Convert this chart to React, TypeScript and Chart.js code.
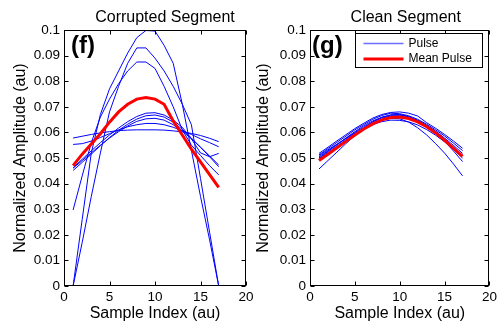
import React, { useEffect, useRef } from 'react';
import { Chart, registerables } from 'chart.js';

Chart.register(...registerables);

const FONT = '"Liberation Sans", Arial, Helvetica, sans-serif';

// ---------- data ----------
const sampleIndex = [1, 2, 3, 4, 5, 6, 7, 8, 9, 10, 11, 12, 13, 14, 15, 16, 17];
const xTickValues = [0, 5, 10, 15, 20];
const xTickLabels = ['0', '5', '10', '15', '20'];
const yTickValues = [0, 0.01, 0.02, 0.03, 0.04, 0.05, 0.06, 0.07, 0.08, 0.09, 0.1];
const yTickLabels = ['0', '0.01', '0.02', '0.03', '0.04', '0.05', '0.06', '0.07', '0.08', '0.09', '0.1'];

// Corrupted segment pulses
const corruptedPulseA = [0, 0.026, 0.052, 0.067, 0.077, 0.084, 0.091, 0.097, 0.0998, 0.0996, 0.094, 0.087, 0.071, 0.053, 0.035, 0.018, 0];
const corruptedPulseB = [0, 0.017, 0.035, 0.052, 0.068, 0.078, 0.087, 0.093, 0.093, 0.089, 0.084, 0.078, 0.071, 0.063, 0.042, 0.021, 0];
const corruptedPulseC = [0.0297, 0.043, 0.056, 0.066, 0.073, 0.079, 0.084, 0.0875, 0.0875, 0.085, 0.078, 0.07, 0.061, 0.055, 0.051, 0.047, 0.0434];
const corruptedPulseD = [0.0578, 0.0585, 0.0592, 0.0598, 0.0603, 0.0607, 0.0609, 0.061, 0.061, 0.061, 0.0609, 0.0606, 0.0602, 0.0596, 0.0588, 0.0577, 0.0564];
const corruptedPulseE = [0.0553, 0.0556, 0.0566, 0.058, 0.0595, 0.061, 0.0622, 0.063, 0.0635, 0.0635, 0.063, 0.062, 0.0607, 0.0592, 0.0575, 0.056, 0.0544];
const corruptedPulseF = [0.046, 0.049, 0.052, 0.055, 0.0578, 0.0603, 0.0625, 0.0643, 0.0653, 0.0655, 0.0648, 0.063, 0.0605, 0.0575, 0.0542, 0.0508, 0.0473];
const corruptedPulseG = [0.0451, 0.0483, 0.0515, 0.0548, 0.058, 0.0608, 0.0632, 0.0652, 0.0665, 0.0668, 0.066, 0.064, 0.0612, 0.0578, 0.0542, 0.0505, 0.0466];
const corruptedPulseH = [0.0462, 0.0495, 0.0528, 0.056, 0.059, 0.0617, 0.0642, 0.0662, 0.0675, 0.0677, 0.0668, 0.0648, 0.062, 0.0575, 0.052, 0.0505, 0.0518];
const corruptedMean = [0.047, 0.0515, 0.0555, 0.0595, 0.064, 0.068, 0.071, 0.073, 0.0736, 0.073, 0.071, 0.0645, 0.059, 0.0535, 0.0485, 0.0435, 0.0385];

// Clean segment pulses
const cleanPulseA = [0.0518, 0.0542, 0.0567, 0.0591, 0.0615, 0.0636, 0.0656, 0.067, 0.0678, 0.068, 0.0675, 0.0664, 0.0638, 0.0616, 0.0592, 0.0566, 0.0538];
const cleanPulseB = [0.0512, 0.0537, 0.0561, 0.0585, 0.061, 0.0631, 0.0651, 0.0666, 0.0675, 0.0673, 0.0665, 0.0651, 0.0632, 0.061, 0.0586, 0.0558, 0.0529];
const cleanPulseC = [0.0505, 0.0528, 0.0552, 0.0576, 0.06, 0.0621, 0.0641, 0.0656, 0.0664, 0.0665, 0.0658, 0.0646, 0.0628, 0.0605, 0.0578, 0.0549, 0.0518];
const cleanPulseD = [0.0457, 0.049, 0.0523, 0.0556, 0.0588, 0.0616, 0.0641, 0.0659, 0.0669, 0.067, 0.0662, 0.0646, 0.0623, 0.0596, 0.0565, 0.0527, 0.0486];
const cleanPulseE = [0.0498, 0.0522, 0.0546, 0.0571, 0.0595, 0.0616, 0.0635, 0.0649, 0.0655, 0.0653, 0.064, 0.0618, 0.059, 0.0556, 0.0519, 0.0476, 0.043];
const cleanPulseF = [0.051, 0.0532, 0.0554, 0.0576, 0.0597, 0.0615, 0.0631, 0.0642, 0.0648, 0.0647, 0.0641, 0.0629, 0.0611, 0.0589, 0.0563, 0.0533, 0.05];
const cleanPulseG = [0.05, 0.0526, 0.0552, 0.0578, 0.0603, 0.0626, 0.0645, 0.0659, 0.0667, 0.0668, 0.0661, 0.0647, 0.0627, 0.0602, 0.0573, 0.0542, 0.051];
const cleanMean = [0.049, 0.0515, 0.054, 0.0565, 0.059, 0.0613, 0.0633, 0.0649, 0.0658, 0.066, 0.0654, 0.0641, 0.0622, 0.0598, 0.0569, 0.0538, 0.0506];

const corruptedPulses = [corruptedPulseA, corruptedPulseB, corruptedPulseC, corruptedPulseD, corruptedPulseE, corruptedPulseF, corruptedPulseG, corruptedPulseH];
const cleanPulses = [cleanPulseA, cleanPulseB, cleanPulseC, cleanPulseD, cleanPulseE, cleanPulseF, cleanPulseG];

const legendLabels = ['Pulse', 'Mean Pulse'];

type PanelProps = {
  left: number;
  width: number;
  yAxisWidth: number;
  padRight: number;
  yTitlePad: number;
  title: string;
  titleShift: number;
  tag: string;
  tagX: number;
  legend: boolean;
  pulses: number[][];
  mean: number[];
};

function Panel(p: PanelProps) {
  const ref = useRef<HTMLCanvasElement | null>(null);
  useEffect(() => {
    if (!ref.current) return;
    const toPts = (arr: number[]) => sampleIndex.map((x, i) => ({ x, y: arr[i] }));
    const datasets: any[] = [
      {
        label: 'Mean Pulse',
        data: toPts(p.mean),
        borderColor: '#ff0000',
        borderWidth: 3,
        pointRadius: 0,
        tension: 0,
      },
      ...p.pulses.map((arr, k) => ({
        label: 'Pulse ' + (k + 1),
        data: toPts(arr),
        borderColor: '#0000ff',
        borderWidth: 1,
        pointRadius: 0,
        tension: 0,
      })),
    ];

    const framePlugin = {
      id: 'frame',
      afterDraw(chart: any) {
        const { ctx, chartArea, scales } = chart;
        const { left, right, top, bottom } = chartArea;
        const xs = scales.x;
        const ys = scales.y;
        ctx.save();
        ctx.strokeStyle = '#000';
        ctx.lineWidth = 1;
        const L = Math.round(left) + 0.5;
        const R = Math.round(right) - 0.5;
        const T = Math.round(top) + 0.5;
        const B = Math.round(bottom) - 0.5;
        ctx.strokeRect(L, T, R - L, B - T);
        const tl = 4;
        ctx.beginPath();
        xTickValues.forEach((v) => {
          const px = Math.round(xs.getPixelForValue(v)) + 0.5;
          ctx.moveTo(px, B);
          ctx.lineTo(px, B - tl);
          ctx.moveTo(px, T);
          ctx.lineTo(px, T + tl);
        });
        yTickValues.forEach((v) => {
          const py = Math.round(ys.getPixelForValue(v)) + 0.5;
          ctx.moveTo(L, py);
          ctx.lineTo(L + tl, py);
          ctx.moveTo(R, py);
          ctx.lineTo(R - tl, py);
        });
        ctx.stroke();

        // title
        ctx.fillStyle = '#000';
        ctx.font = '16px ' + FONT;
        ctx.textAlign = 'center';
        ctx.textBaseline = 'middle';
        ctx.fillText(p.title, (left + right) / 2 + p.titleShift, 18);

        // panel tag
        ctx.font = 'bold 24px ' + FONT;
        ctx.textAlign = 'left';
        ctx.textBaseline = 'alphabetic';
        ctx.fillText(p.tag, p.tagX, 53);

        if (p.legend) {
          const bx1 = Math.round(right) - 6.5;
          const bx0 = bx1 - 127;
          const by0 = Math.round(top) + 3.5;
          const by1 = by0 + 34;
          ctx.fillStyle = '#fff';
          ctx.fillRect(bx0, by0, bx1 - bx0, by1 - by0);
          ctx.strokeStyle = '#000';
          ctx.lineWidth = 1;
          ctx.strokeRect(bx0, by0, bx1 - bx0, by1 - by0);
          // Pulse entry
          ctx.strokeStyle = 'rgb(110,110,255)';
          ctx.lineWidth = 1.5;
          ctx.beginPath();
          ctx.moveTo(bx0 + 8, by0 + 10);
          ctx.lineTo(bx0 + 48, by0 + 10);
          ctx.stroke();
          ctx.strokeStyle = '#ff0000';
          ctx.lineWidth = 3;
          ctx.beginPath();
          ctx.moveTo(bx0 + 8, by0 + 25.5);
          ctx.lineTo(bx0 + 48, by0 + 25.5);
          ctx.stroke();
          ctx.fillStyle = '#000';
          ctx.font = '12px ' + FONT;
          ctx.textBaseline = 'middle';
          ctx.textAlign = 'left';
          ctx.fillText(legendLabels[0], bx0 + 53, by0 + 10);
          ctx.fillText(legendLabels[1], bx0 + 53, by0 + 25.5);
        }
        ctx.restore();
      },
    };

    const chart = new Chart(ref.current, {
      type: 'line',
      data: { datasets },
      options: {
        animation: false,
        responsive: false,
        devicePixelRatio: 1,
        layout: { padding: { top: 30, right: p.padRight, bottom: 0, left: 0 } },
        plugins: { legend: { display: false }, tooltip: { enabled: false }, title: { display: false } },
        scales: {
          x: {
            type: 'linear',
            min: 0,
            max: 20,
            afterBuildTicks: (scale: any) => {
              scale.ticks = xTickValues.map((v) => ({ value: v }));
            },
            afterFit: (scale: any) => {
              scale.height = 39;
            },
            grid: { display: false, drawTicks: false },
            border: { display: false },
            ticks: {
              color: '#000',
              font: { family: FONT, size: 13.5 },
              padding: 3,
              maxRotation: 0,
              autoSkip: false,
              callback: (_v: any, i: number) => xTickLabels[i],
            },
            title: {
              display: true,
              text: 'Sample Index (au)',
              color: '#000',
              font: { family: FONT, size: 16 },
              padding: { top: 0, bottom: 1.4 },
            },
          },
          y: {
            type: 'linear',
            min: 0,
            max: 0.1,
            afterBuildTicks: (scale: any) => {
              scale.ticks = yTickValues.map((v) => ({ value: v }));
            },
            afterFit: (scale: any) => {
              scale.width = p.yAxisWidth;
            },
            grid: { display: false, drawTicks: false },
            border: { display: false },
            ticks: {
              color: '#000',
              font: { family: FONT, size: 13.5 },
              padding: 4,
              autoSkip: false,
              callback: (_v: any, i: number) => yTickLabels[i],
            },
            title: {
              display: true,
              text: 'Normalized Amplitude (au)',
              color: '#000',
              font: { family: FONT, size: 16 },
              padding: { top: p.yTitlePad, bottom: 0 },
            },
          },
        },
      },
      plugins: [framePlugin],
    });
    return () => chart.destroy();
  }, []);
  return (
    <canvas
      ref={ref}
      width={p.width}
      height={325}
      style={{ position: 'absolute', left: p.left, top: 0, width: p.width, height: 325 }}
    />
  );
}

export default function App() {
  return (
    <div style={{ position: 'absolute', left: 0, top: 0, width: 500, height: 325, background: '#fff', overflow: 'hidden' }}>
      <Panel
        left={0}
        width={260}
        yAxisWidth={64}
        padRight={14}
        yTitlePad={11.4}
        title="Corrupted Segment"
        titleShift={10}
        tag="(f)"
        tagX={71}
        legend={false}
        pulses={corruptedPulses}
        mean={corruptedMean}
      />
      <Panel
        left={250}
        width={250}
        yAxisWidth={60}
        padRight={9}
        yTitlePad={4.4}
        title="Clean Segment"
        titleShift={6}
        tag="(g)"
        tagX={62}
        legend={true}
        pulses={cleanPulses}
        mean={cleanMean}
      />
    </div>
  );
}
